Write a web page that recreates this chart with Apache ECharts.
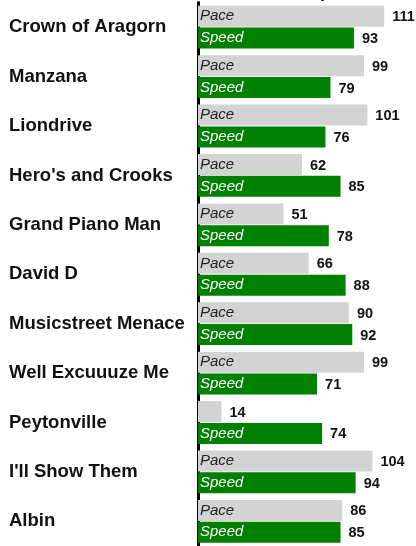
<!DOCTYPE html>
<html>
<head>
<meta charset="utf-8">
<script src="https://cdn.jsdelivr.net/npm/echarts@6/dist/echarts.min.js"></script>
<style>
  html, body { margin: 0; padding: 0; background: #fff; }
  #chart { width: 416px; height: 546px; }
</style>
</head>
<body>
<div id="chart"></div>
<script>
const horses = ['Crown of Aragorn', 'Manzana', 'Liondrive', "Hero's and Crooks", 'Grand Piano Man',
  'David D', 'Musicstreet Menace', 'Well Excuuuze Me', 'Peytonville', "I'll Show Them", 'Albin']
const pace = [111, 99, 101, 62, 51, 66, 90, 99, 14, 104, 86]
const speed = [93, 79, 76, 85, 78, 88, 92, 71, 74, 94, 85]

const paceColor = '#d3d3d3'
const speedColor = '#008000'
const font = 'Liberation Sans, Arial, sans-serif'

// name label inside the bar, hidden when the bar is too short for it
const nameLabel = (text, color) => ({
  show: true,
  position: 'insideLeft',
  distance: 2,
  formatter: text,
  color: color,
  fontFamily: font,
  fontStyle: 'italic',
  fontSize: 15,
})

// value label to the right of the bar
const valueLabel = {
  show: true,
  position: 'right',
  distance: 8,
  offset: [0, 1],
  color: '#111',
  fontFamily: font,
  fontWeight: 'bold',
  fontSize: 14.5,
}

const options = {
  animation: false,
  // only the bottom of the title reaches into the picture
  title: {
    text: 'Comparison',
    left: 275,
    top: -22,
    textStyle: { fontFamily: font, fontSize: 18, fontWeight: 'bold', color: '#000' },
  },
  grid: { left: 198, right: 0, top: 2.5, height: 550 },
  xAxis: {
    type: 'value',
    min: 0,
    max: 130,
    show: false,
  },
  yAxis: [
    {
      type: 'category',
      data: horses,
      inverse: true,
      offset: 1.5,
      axisLine: { show: true, lineStyle: { color: '#000', width: 3 } },
      axisTick: { show: false },
      axisLabel: {
        align: 'left',
        margin: 187.5,
        color: '#111',
        fontFamily: font,
        fontWeight: 'bold',
        fontSize: 18.5,
      },
    },
    {
      type: 'category',
      data: horses,
      inverse: true,
      show: false,
    },
  ],
  series: [
    {
      name: 'Pace',
      type: 'bar',
      barWidth: 21,
      barGap: '4%',
      itemStyle: { color: paceColor },
      label: nameLabel('Pace', '#222'),
      data: pace.map(v => ({ value: v, label: { show: v > 20 } })),
    },
    {
      name: 'Speed',
      type: 'bar',
      barWidth: 21,
      barGap: '4%',
      itemStyle: { color: speedColor },
      label: nameLabel('Speed', '#fff'),
      data: speed,
    },
    // transparent copies on the second category axis carry the value labels
    {
      name: 'Pace value',
      type: 'bar',
      yAxisIndex: 1,
      barWidth: 21,
      barGap: '4%',
      silent: true,
      itemStyle: { color: 'rgba(0,0,0,0)' },
      label: valueLabel,
      data: pace,
    },
    {
      name: 'Speed value',
      type: 'bar',
      yAxisIndex: 1,
      barWidth: 21,
      barGap: '4%',
      silent: true,
      itemStyle: { color: 'rgba(0,0,0,0)' },
      label: valueLabel,
      data: speed,
    },
  ],
}

const chart = echarts.init(document.getElementById('chart'))
chart.setOption(options)
window.addEventListener('resize', function () {
  chart && chart.resize()
})
</script>
</body>
</html>
